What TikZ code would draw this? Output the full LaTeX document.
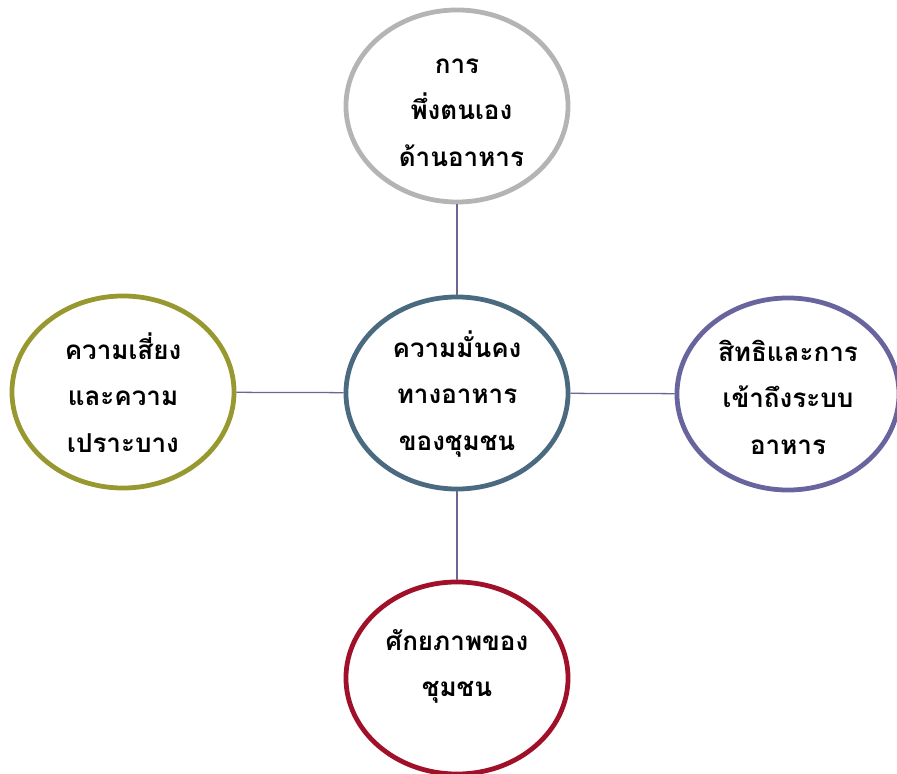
\documentclass[tikz,border=0pt]{standalone}
\usepackage{fontspec}
\newfontfamily\thaifont[Script=Thai]{Loma}
\usetikzlibrary{shapes.geometric}

\definecolor{ringgray}{RGB}{180,180,180}
\definecolor{ringslate}{RGB}{74,106,128}
\definecolor{ringolive}{RGB}{152,152,48}
\definecolor{ringviolet}{RGB}{104,100,158}
\definecolor{ringcrimson}{RGB}{160,16,40}
\definecolor{linkviolet}{RGB}{110,100,150}

% struts that push a ring's text down or up
\newcommand{\topstrut}{\rule{0pt}{20pt}}
\newcommand{\footstrut}{\rule[-26pt]{0pt}{0pt}}

\tikzset{
  ring/.style={ellipse,draw,line width=3.4pt,fill=white,
    minimum width=5.55cm,minimum height=4.8cm,inner sep=0pt,align=center,
    font=\thaifont\bfseries\fontsize{18.5}{33}\selectfont},
  link/.style={linkviolet,line width=0.9pt}
}

\begin{document}
\begin{tikzpicture}[x=0.025cm,y=-0.025cm]
\useasboundingbox (0,0) rectangle (897,774);

% the five rings:
\node[ring,draw=ringslate] (food) at (457,393) {\topstrut ความมั่นคง\\ทางอาหาร\\ของชุมชน};
\node[ring,draw=ringgray] (self) at (457,106) {\topstrut การ\\ \ พึ่งตนเอง\\ \ ด้านอาหาร};
\node[ring,draw=ringolive] (risk) at (123,392) {\topstrut ความเสี่ยง\\และความ\\เปราะบาง};
\node[ring,draw=ringviolet] (rights) at (788,394) {\topstrut สิทธิและการ\\เข้าถึงระบบ\\อาหาร};
\node[ring,draw=ringcrimson] (power) at (457,678) {\topstrut ศักยภาพของ\\ชุมชน\footstrut};

% links from the middle:
\draw[link] (food) -- (self);
\draw[link] (food) -- (risk);
\draw[link] (food) -- (rights);
\draw[link] (food) -- (power);

\end{tikzpicture}
\end{document}
